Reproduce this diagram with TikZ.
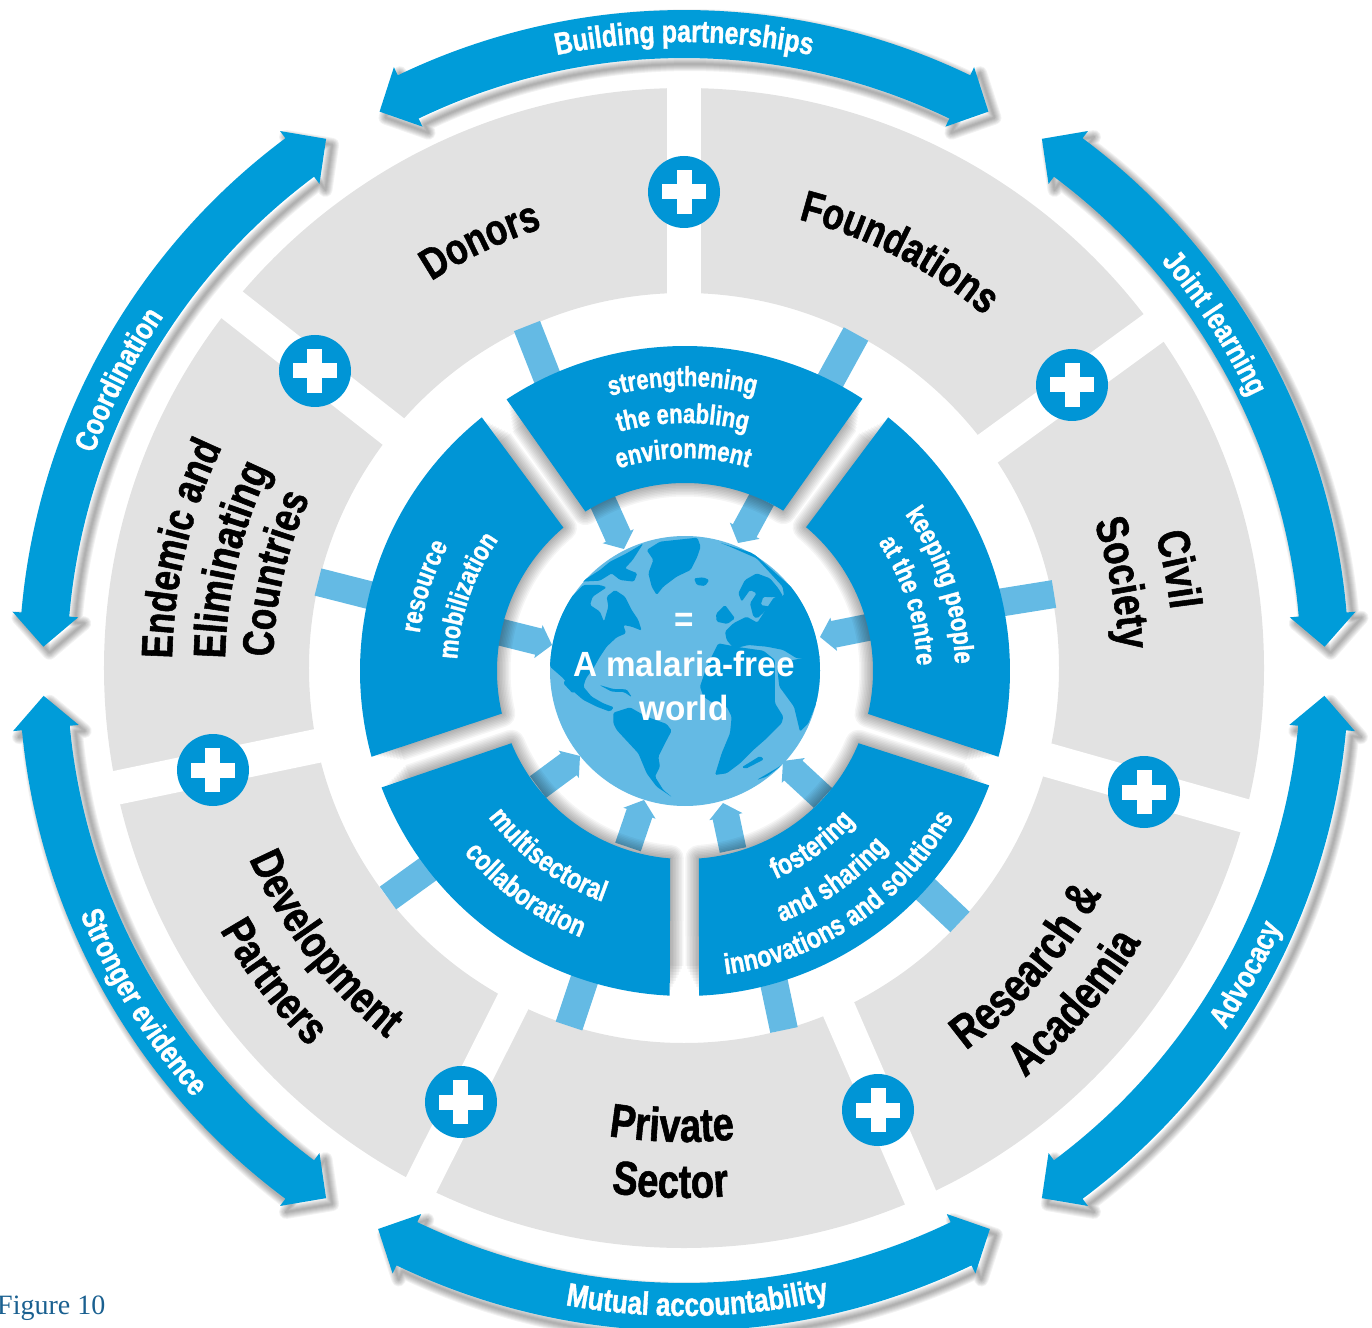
\documentclass[tikz,border=0pt]{standalone}
\usepackage{fontspec}
\usetikzlibrary{calc,decorations.text}
\newfontfamily\cond[FakeStretch=0.80,BoldFeatures={FakeBold=1.2}]{Liberation Sans}
\newfontfamily\globef[FakeStretch=0.95]{Liberation Sans}
\newfontfamily\figf{Liberation Serif}
\definecolor{inblue}{HTML}{0095D6}
\definecolor{outblue}{HTML}{009CD9}
\definecolor{lightb}{HTML}{64BAE4}
\definecolor{grayseg}{HTML}{E2E2E2}
\definecolor{figc}{HTML}{1A6090}
\tikzset{
  pix/.style={shift={(-684,668)},yscale=-1},
  gapline/.style={white,line width=34pt},
  barline/.style={lightb,line width=28pt},
  softshadow/.style={draw=black,draw opacity=.05,line join=round},
  hubshadow/.style={draw=black,draw opacity=.04,line join=round},
  land/.style={fill=inblue,rounded corners=1.5pt},
  globetext/.style={text=white,font=\globef\bfseries\fontsize{35}{35}\selectfont},
}
% text along arcs: clockwise (tops outward) and counter-clockwise (tops inward)
\newcommand\cwtext[4]{\path[decorate,decoration={text along path,text align=center,text={#4}}]
  ({#1+#3}:#2) arc[start angle={#1+#3},end angle={#1-#3},radius=#2];}
\newcommand\ccwtext[4]{\path[decorate,decoration={text along path,text align=center,text={#4}}]
  ({#1-#3}:#2) arc[start angle={#1-#3},end angle={#1+#3},radius=#2];}
\newcommand\glab{\cond\bfseries\fontsize{45.5}{46}\selectfont}
\newcommand\glabs{\cond\bfseries\fontsize{44}{46}\selectfont}
\newcommand\glabb{\cond\bfseries\fontsize{47.5}{48}\selectfont}
\newcommand\slab{\color{white}\cond\bfseries\fontsize{27.5}{28}\selectfont}
\newcommand\slabb{\color{white}\cond\bfseries\fontsize{29}{29}\selectfont}
\newcommand\alab{\color{white}\cond\bfseries\fontsize{31}{31}\selectfont}
\newcommand\alabb{\color{white}\cond\bfseries\fontsize{32.5}{33}\selectfont}
% outer double arrow
\newcommand\arrowpath[3]{%
  ({#1}:#3) -- ({#1+2.9}:#3+33) -- ({#1+2.9}:#3+24)
  arc[start angle={#1+2.9},end angle={#2-2.9},radius=#3+24]
  -- ({#2-2.9}:#3+33) -- ({#2}:#3) -- ({#2-2.9}:#3-33) -- ({#2-2.9}:#3-24)
  arc[start angle={#2-2.9},end angle={#1+2.9},radius=#3-24]
  -- ({#1+2.9}:#3-33) -- cycle}
\newcommand\outarrow[4]{%
  \begin{scope}[shift={(#4)}]
  \begin{scope}[shift={(6,-6)}]
  \foreach \w in {2,4,...,14}{\path[softshadow,line width=\w pt] \arrowpath{#1}{#2}{#3};}
  \end{scope}
  \fill[outblue] \arrowpath{#1}{#2}{#3};
  \end{scope}}
% inner blue segment around the hub
\newcommand\segpath[4]{%
  ({#1}:325) arc[start angle={#1},end angle={#2},radius=325]
  -- ({#4}:188) arc[start angle={#4},end angle={#3},radius=188] -- cycle}
% short arrow to the globe
\newcommand\toglobe[2]{%
  \path (#1) coordinate (aa) (#2) coordinate (bb) ($(bb)!14pt!(aa)$) coordinate (hh);
  \fill[lightb] ($(aa)!13.5pt!90:(bb)$) -- ($(hh)!13.5pt!90:(bb)$) -- ($(hh)!17pt!90:(bb)$) -- (bb)
   -- ($(hh)!17pt!-90:(bb)$) -- ($(hh)!13.5pt!-90:(bb)$) -- ($(aa)!13.5pt!-90:(bb)$) -- cycle;}
\newcommand\plusmark[1]{%
  \fill[inblue] (#1) circle (36);
  \fill[white] ($(#1)+(-22,-7.5)$) rectangle ($(#1)+(22,7.5)$);
  \fill[white] ($(#1)+(-7.5,-22)$) rectangle ($(#1)+(7.5,22)$);}
\begin{document}
\begin{tikzpicture}[x=1pt,y=1pt]
\useasboundingbox (-684,-659) rectangle (688,668);
% gray ring
\fill[grayseg,even odd rule] (0,0) circle (580) (0,0) circle (375);
\begin{scope}[pix]
  \draw[gapline] (684,70) -- (684,310);
  \draw[gapline] (1170,316) -- (975,458);
  \draw[gapline] (1270,823) -- (1044,759);
  \draw[gapline] (929,1217) -- (832,994);
  \draw[gapline] (412,1203) -- (521,986);
  \draw[gapline] (96,792) -- (336,742);
  \draw[gapline] (217,293) -- (408,443);
  % bars between gray sectors and blue segments
  \draw[barline] (527,326) -- (549,382);
  \draw[barline] (856,334) -- (828,385);
  \draw[barline] (1054,594) -- (998,603);
  \draw[barline] (960,922) -- (923,887);
  \draw[barline] (784,1030) -- (773,978);
  \draw[barline] (569,1026) -- (586,975);
  \draw[barline] (388,898) -- (431,867);
  \draw[barline] (318,582) -- (373,596);
  % short arrows to the globe
  \toglobe{601,498}{624,549}
  \toglobe{762,499}{738,543}
  \toglobe{870,627}{820,637}
  \toglobe{823,798}{783,761}
  \toglobe{733,850}{723,803}
  \toglobe{628,847}{644,800}
  \toglobe{538,787}{580,756}
  \toglobe{500,632}{552,645}
\end{scope}
% hub: blue segments
\begin{scope}[shift={(1,-3)}]
  \foreach \w in {3,6,...,27}{
    \begin{scope}
      \pgfmathsetmacro\rclip{322-1.0*\w}
      \clip (0,0) circle (\rclip);
      \path[hubshadow,line width=\w pt] \segpath{56.9}{123.3}{58.5}{122};
      \path[hubshadow,line width=\w pt] \segpath{-15.3}{51.3}{-13.2}{49.9};
      \path[hubshadow,line width=\w pt] \segpath{128.7}{195.3}{130.3}{193.1};
      \path[hubshadow,line width=\w pt] \segpath{201}{267.3}{202.6}{265.5};
      \path[hubshadow,line width=\w pt] \segpath{272.5}{339.4}{274.2}{337.4};
    \end{scope}
  }
  \fill[inblue] \segpath{56.9}{123.3}{58.5}{122};
  \fill[inblue] \segpath{-15.3}{51.3}{-13.2}{49.9};
  \fill[inblue] \segpath{128.7}{195.3}{130.3}{193.1};
  \fill[inblue] \segpath{201}{267.3}{202.6}{265.5};
  \fill[inblue] \segpath{272.5}{339.4}{274.2}{337.4};
  % globe
  \fill[lightb] (0,0) circle (135);
\end{scope}
\begin{scope}[pix]
  \begin{scope}
  \clip (685,670.5) circle (135);
  \begin{scope}[shift={(500,490)},scale=.33333]
    % North America
    \path[land] (150,530) -- (150,420) -- (185,370) -- (215,320) -- (250,285) -- (300,285) -- (320,292) -- (278,320) -- (270,345) -- (300,365) -- (312,395) -- (325,350) -- (320,320) -- (345,300) -- (375,320) -- (395,360) -- (415,390) -- (425,422) -- (395,410) -- (370,405) -- (378,430) -- (350,442) -- (320,470) -- (300,500) -- (280,535) -- (258,565) -- (250,590) -- (275,620) -- (310,640) -- (342,652) -- (330,665) -- (290,650) -- (250,630) -- (215,600) -- (190,565) -- cycle;
    % Arctic islands
    \path[land] (245,275) -- (300,240) -- (330,215) -- (380,190) -- (430,160) -- (398,210) -- (375,235) -- (412,250) -- (402,275) -- (360,270) -- (335,250) -- (300,272) -- cycle;
    % Greenland
    \path[land] (440,180) -- (480,155) -- (592,143) -- (602,170) -- (592,200) -- (572,240) -- (530,260) -- (490,290) -- (470,315) -- (455,290) -- (445,250) -- (460,210) -- cycle;
    % Iceland
    \path[land] (582,265) -- (610,262) -- (628,270) -- (615,288) -- (590,285) -- cycle;
    % Britain
    \path[land] (648,372) -- (675,345) -- (690,365) -- (705,385) -- (682,402) -- (650,395) -- cycle;
    % Scandinavia
    \path[land] (735,270) -- (770,250) -- (810,265) -- (835,295) -- (850,320) -- (810,322) -- (790,320) -- (782,345) -- (810,350) -- (772,385) -- (760,380) -- (750,340) -- (770,310) -- (750,300) -- (725,335) -- (715,310) -- cycle;
    % Eurasia
    \path[land] (660,158) -- (760,190) -- (850,270) -- (930,340) -- (975,450) -- (975,505) -- (890,505) -- (850,480) -- (800,470) -- (745,465) -- (702,476) -- (680,450) -- (675,425) -- (700,400) -- (740,380) -- (772,398) -- (802,352) -- (822,322) -- (852,318) -- (848,290) -- (770,205) -- (690,170) -- cycle;
    % Africa
    \path[land] (655,460) -- (720,472) -- (790,482) -- (825,510) -- (825,640) -- (850,680) -- (845,700) -- (800,745) -- (760,780) -- (720,820) -- (680,850) -- (645,855) -- (665,790) -- (690,730) -- (695,680) -- (680,650) -- (640,640) -- (610,620) -- (600,590) -- (620,530) -- (640,490) -- cycle;
    % Arabia and India
    \path[land] (880,510) -- (975,490) -- (975,580) -- (945,650) -- (925,700) -- (900,725) -- (882,650) -- (838,590) -- (830,520) -- cycle;
    % Madagascar, Indonesia
    \path[land] (725,832) -- (780,798) -- (792,808) -- (738,836) -- cycle;
    \path[land] (770,870) -- (830,835) -- (860,815) -- (800,860) -- cycle;
    % South America
    \path[land] (340,668) -- (390,652) -- (440,680) -- (500,702) -- (515,722) -- (495,760) -- (475,800) -- (480,830) -- (465,860) -- (490,900) -- (517,922) -- (470,890) -- (440,850) -- (415,790) -- (350,720) -- (340,700) -- cycle;
    % Caribbean
    \path[land] (298,585) -- (340,597) -- (380,598) -- (396,622) -- (372,606) -- (335,605) -- cycle;
    \path[land] (195,570) -- (225,605) -- (218,610) -- (190,580) -- cycle;
  \end{scope}
  \end{scope}
  \plusmark{684,192}
  \plusmark{1072,385}
  \plusmark{1144,792}
  \plusmark{878,1110}
  \plusmark{461,1102}
  \plusmark{213,770}
  \plusmark{315,371}
\end{scope}
% outer arrows
\outarrow{61.4}{118.6}{636}{0,-2}
\outarrow{123.8}{178}{638}{-3,-1}
\outarrow{182.5}{236.2}{638}{-3,0}
\outarrow{241.4}{298.6}{639}{0,0}
\outarrow{-56.2}{-2.5}{638}{3,0}
\outarrow{2}{56.2}{638}{3,-1}
% outer arrow labels
\cwtext{90}{626}{30}{|\alab|Building partnerships}
\cwtext{33}{627}{30}{|\alab|Joint learning}
\cwtext{153}{628}{30}{|\alab|Coordination}
\ccwtext{-88.8}{648}{30}{|\alabb|Mutual accountability}
\ccwtext{-28.6}{651}{30}{|\alab|Advocacy}
\ccwtext{211.7}{652}{30}{|\alab|Stronger evidence}
% gray sector labels
\cwtext{115.5}{462}{30}{|\glabs|Donors}
\cwtext{62.6}{463}{30}{|\glabs|Foundations}
\cwtext{11.3}{490}{30}{|\glab|Civil}
\cwtext{11}{435}{30}{|\glab|Society}
\ccwtext{-41}{475}{30}{|\glabb|Research {\&}}
\ccwtext{-40.6}{533}{30}{|\glabb|Academia}
\ccwtext{-91.5}{474}{30}{|\glabb|Private}
\ccwtext{-91.5}{530}{30}{|\glabb|Sector}
\ccwtext{217.5}{475}{30}{|\glab|Development}
\ccwtext{217.4}{533}{30}{|\glab|Partners}
\cwtext{166.7}{512}{30}{|\glabs|Endemic and}
\cwtext{166.6}{459}{30}{|\glab|Eliminating}
\cwtext{167}{411}{30}{|\glabs|Countries}
% segment labels
\begin{scope}[shift={(1,-3)}]
\cwtext{90.5}{285}{40}{|\slab|strengthening}
\cwtext{90.5}{248}{40}{|\slab|the enabling}
\cwtext{90.5}{213}{40}{|\slab|environment}
\cwtext{18.5}{270}{40}{|\slab|keeping people}
\cwtext{17.5}{232}{40}{|\slab|at the centre}
\cwtext{162}{268}{40}{|\slab|resource}
\cwtext{161}{228}{50}{|\slab|mobilization}
\ccwtext{233.5}{245}{40}{|\slabb|multisectoral}
\ccwtext{234}{286}{40}{|\slabb|collaboration}
\ccwtext{-54}{227}{40}{|\slabb|fostering}
\ccwtext{-55}{269}{40}{|\slabb|and sharing}
\ccwtext{-55.5}{306}{40}{|\slabb|innovations and solutions}
\end{scope}
% globe text
\begin{scope}[pix]
\node[globetext] (eq) at (684,622) {=};
\node[globetext] (mal) at (684,664) {A malaria-free};
\node[globetext] (wor) at (684,708) {world};
\node[text=figc,font=\figf\fontsize{28}{28}\selectfont,anchor=base west,inner sep=0pt] (fig) at (-3,1314) {Figure 10};
\end{scope}
\end{tikzpicture}
\end{document}
